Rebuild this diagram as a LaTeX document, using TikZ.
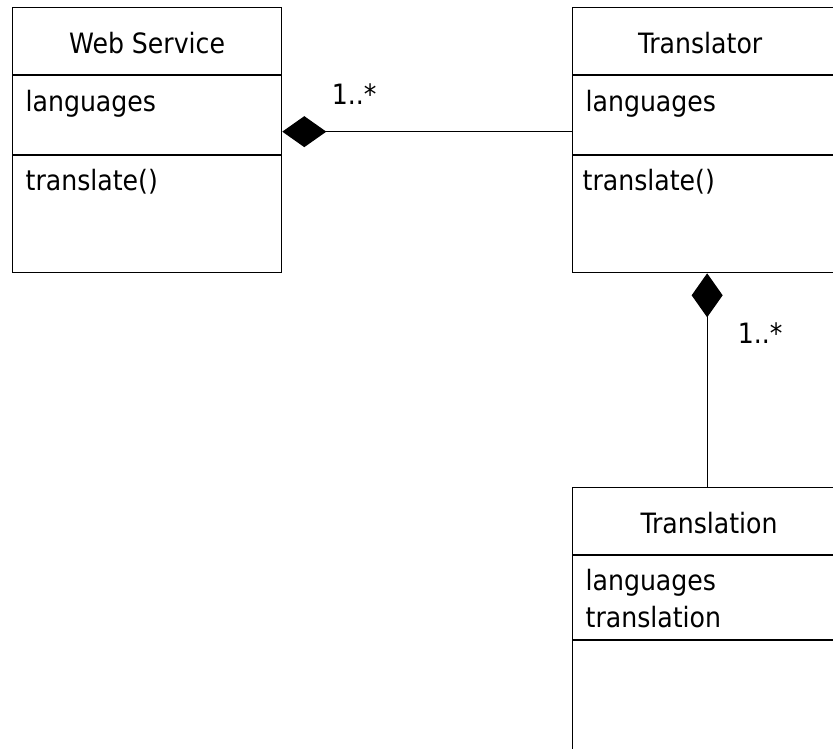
\documentclass[tikz,border=0pt]{standalone}
\usepackage{fontspec}
\setmainfont{DejaVu Sans Condensed}
\usetikzlibrary{arrows.meta,positioning}

\begin{document}
\begin{tikzpicture}[x=1pt,y=-1pt,font=\fontsize{28}{34}\selectfont,line width=1.3pt,cls/.style={draw,anchor=north west,minimum width=269pt,minimum height=265pt,inner sep=0pt},title/.style={anchor=base,inner sep=0pt},member/.style={anchor=base west,inner sep=0pt},comp/.style={{Diamond[length=44pt,width=31pt]}-},mult/.style={anchor=base west,inner sep=0pt}]
\useasboundingbox (0,0) rectangle (833,748);
\clip (0,0) rectangle (833,748);
% classes
\node[cls] (ws) at (12,7){};
\node[cls] (tor) at (572,7){};
\node[cls] (tln) at (572,487){};
\foreach \c/\s in {ws/148,tor/148,tln/153}{\draw ([yshift=-68pt]\c.north west) -- ([yshift=-68pt]\c.north east);\draw ([yshift=-\s pt]\c.north west) -- ([yshift=-\s pt]\c.north east);}
\node[title] (ws-name) at ([yshift=-46pt]ws.north){Web Service};
\node[member] (ws-attr) at ([xshift=13pt,yshift=-104pt]ws.north west){languages};
\node[member] (ws-op) at ([xshift=13pt,yshift=-183pt]ws.north west){translate()};
\node[title] (tor-name) at ([xshift=-7pt,yshift=-46pt]tor.north){Translator};
\node[member] (tor-attr) at ([xshift=13pt,yshift=-104pt]tor.north west){languages};
\node[member] (tor-op) at ([xshift=10pt,yshift=-183pt]tor.north west){translate()};
\node[title] (tln-name) at ([xshift=2pt,yshift=-46pt]tln.north){Translation};
\node[member] (tln-attr1) at ([xshift=13pt,yshift=-103pt]tln.north west){languages};
\node[member] (tln-attr2) at ([xshift=13pt,yshift=-140pt]tln.north west){translation};
% compositions
\draw[comp] ([yshift=8.5pt]ws.east) -- ([yshift=8.5pt]tor.west) node[mult,pos=0,xshift=49pt,yshift=27pt] (m-ws){1..*};
\draw[comp] (tor.south) -- (tln.north) node[mult,pos=0,xshift=30pt,yshift=-70pt] (m-tor){1..*};
\end{tikzpicture}
\end{document}
